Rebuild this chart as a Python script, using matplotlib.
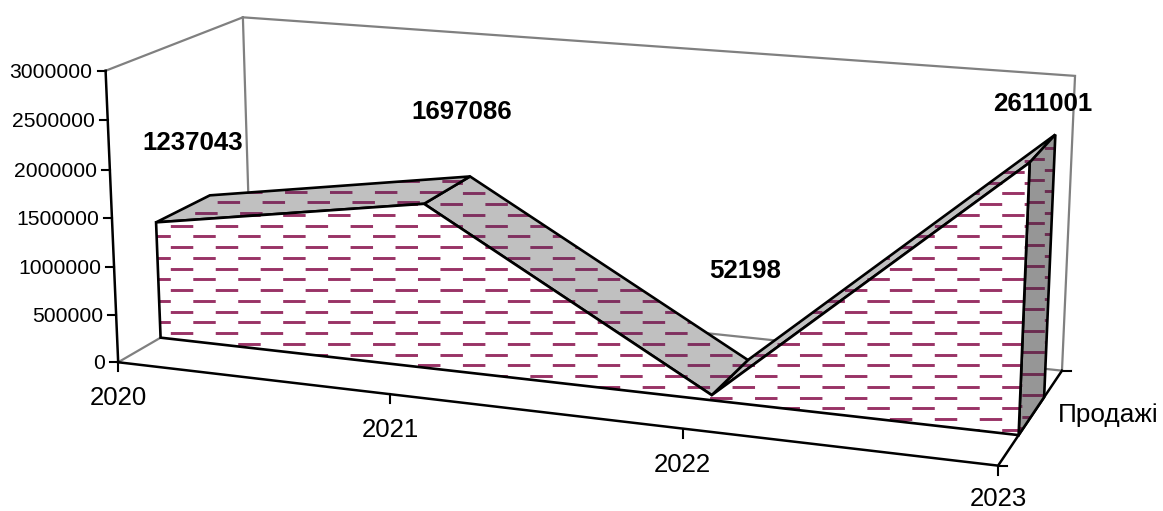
"""Perspective area chart of yearly sales with a dashed fill pattern."""
import numpy as np
import matplotlib
matplotlib.use("Agg")
import matplotlib.pyplot as plt
from matplotlib.patches import Polygon

plt.rcParams["font.family"] = ["Liberation Sans", "DejaVu Sans"]

years = ["2020", "2021", "2022", "2023"]
sales = [1237043, 1697086, 52198, 2611001]
value_ticks = [0, 500000, 1000000, 1500000, 2000000, 2500000, 3000000]
series_name = "Продажі"

W, H = 1163, 511
VMAX = 3000000
Z_FRONT, Z_BACK = 0.30, 0.70

BLACK = "#000000"
WALL = "#808080"
PLUM = "#993366"

# box corners (year index, value share, depth) -> screen position, used to solve the camera
box_world = [(0, 0, 0), (3, 0, 0), (3, 0, 1), (0, 0, 1), (0, 1, 0), (0, 1, 1), (3, 1, 1), (1, 0, 0), (2, 0, 0)]
box_screen = [(118.3, 361.5), (998, 466), (1062, 370), (251, 286), (105.5, 71), (243, 17), (1075, 76), (390, 394), (683, 429)]


def solve_camera(world, screen):
    rows, rhs = [], []
    for (x, y, z), (u, v) in zip(world, screen):
        rows.append([x, y, z, 1, 0, 0, 0, 0, -u * x, -u * y, -u * z])
        rhs.append(u)
        rows.append([0, 0, 0, 0, x, y, z, 1, -v * x, -v * y, -v * z])
        rhs.append(v)
    p = np.linalg.lstsq(np.array(rows, float), np.array(rhs, float), rcond=None)[0]
    return np.append(p, 1.0).reshape(3, 4)


CAM = solve_camera(box_world, box_screen)


def project(i, value, z):
    u, v, w = CAM @ np.array([i, value / VMAX, z, 1.0])
    return u / w, v / w


def hatch(ax, patch, color, y0, x0, lw=2.1):
    # rows of dashes, every other row shifted by half a period
    period, dash, step = 21.4, 10.7, 10.75
    n_start = int(np.floor((0 - y0) / step))
    n_end = int(np.ceil((H - y0) / step))
    for n in range(n_start, n_end):
        start = (x0 + (n % 2) * dash) % period
        line, = ax.plot([0, W], [y0 + n * step] * 2, color=color, lw=lw, zorder=patch.get_zorder(),
                        linestyle=((period - start) * 0.72, (dash * 0.72, (period - dash) * 0.72)),
                        dash_capstyle="butt")
        line.set_clip_path(patch)


def face(ax, pts, fill, hatch_color, y0, x0, order):
    patch = Polygon(pts, closed=True, facecolor=fill, edgecolor="none", zorder=order)
    ax.add_patch(patch)
    hatch(ax, patch, hatch_color, y0, x0)
    ax.add_patch(Polygon(pts, closed=True, fill=False, edgecolor=BLACK, lw=1.9,
                         joinstyle="miter", zorder=order + 0.5))


fig = plt.figure(figsize=(W / 100, H / 100), dpi=100)
ax = fig.add_axes([0, 0, 1, 1])
ax.set_xlim(0, W)
ax.set_ylim(H, 0)
ax.axis("off")

# back walls and floor edges in grey
wall_runs = [
    [(0, VMAX, 0), (0, VMAX, 1), (3, VMAX, 1), (3, 0, 1), (0, 0, 1), (0, VMAX, 1)],
    [(0, 0, 0), (0, 0, 1)],
]
for run in wall_runs:
    xs, ys = zip(*[project(*p) for p in run])
    ax.plot(xs, ys, color=WALL, lw=1.6, zorder=1, solid_joinstyle="miter")

# axes edges in black
for run in ([(0, 0, 0), (0, VMAX, 0)], [(0, 0, 0), (3, 0, 0), (3, 0, 1)]):
    xs, ys = zip(*[project(*p) for p in run])
    ax.plot(xs, ys, color=BLACK, lw=1.8, zorder=2, solid_joinstyle="miter")

for tick in value_ticks:
    x, y = project(0, tick, 0)
    ax.plot([x - 8, x], [y, y], color=BLACK, lw=1.5, zorder=2)
    ax.text(x - 13, y + 1.5, str(tick), fontsize=15.2, ha="right", va="center", color=BLACK)

for i, year in enumerate(years):
    x, y = project(i, 0, 0)
    ax.plot([x, x], [y, y + 9], color=BLACK, lw=1.5, zorder=2)
    # the last label would otherwise run into the bottom edge
    ax.text(x, min(y + 36, 499), year, fontsize=18.5, ha="center", va="center", color=BLACK)

# depth ticks at the right end of the floor
x, y = project(3, 0, 0)
ax.plot([x, x + 9], [y, y], color=BLACK, lw=1.5, zorder=2)
x, y = project(3, 0, 1)
ax.plot([x, x + 9], [y, y], color=BLACK, lw=1.5, zorder=2)
ax.text(1108, 415, series_name, fontsize=18.8, ha="center", va="center", color=BLACK)

front = [project(i, v, Z_FRONT) for i, v in enumerate(sales)]
back = [project(i, v, Z_BACK) for i, v in enumerate(sales)]
base_front = [project(i, 0, Z_FRONT) for i in range(len(sales))]
base_back = [project(i, 0, Z_BACK) for i in range(len(sales))]

# top ribbons, end cap, then the front wall of the area
face(ax, [front[2], back[2], back[3], front[3]], "#C0C0C0", "#80305F", 225.7, 166.7, 3)
face(ax, [front[1], back[1], back[2], front[2]], "#C0C0C0", "#80305F", 225.7, 166.7, 4)
face(ax, [front[0], back[0], back[1], front[1]], "#C0C0C0", "#80305F", 181.0, 317.4, 5)
face(ax, [front[3], back[3], base_back[3], base_front[3]], "#969696", "#6B2C50", 159.0, 1043.0, 6)
face(ax, [base_front[0]] + front + [base_front[3]], "#FFFFFF", PLUM, 225.7, 166.7, 7)

# value labels sit clear of the ribbon
for (cx, cy), v in zip([(192.5, 143), (462, 112), (745, 271), (1043, 104)], sales):
    ax.text(cx, cy, str(v), fontsize=18.6, fontweight="bold", ha="center", va="center", color=BLACK, zorder=10)

fig.savefig("out.png", dpi=100)
